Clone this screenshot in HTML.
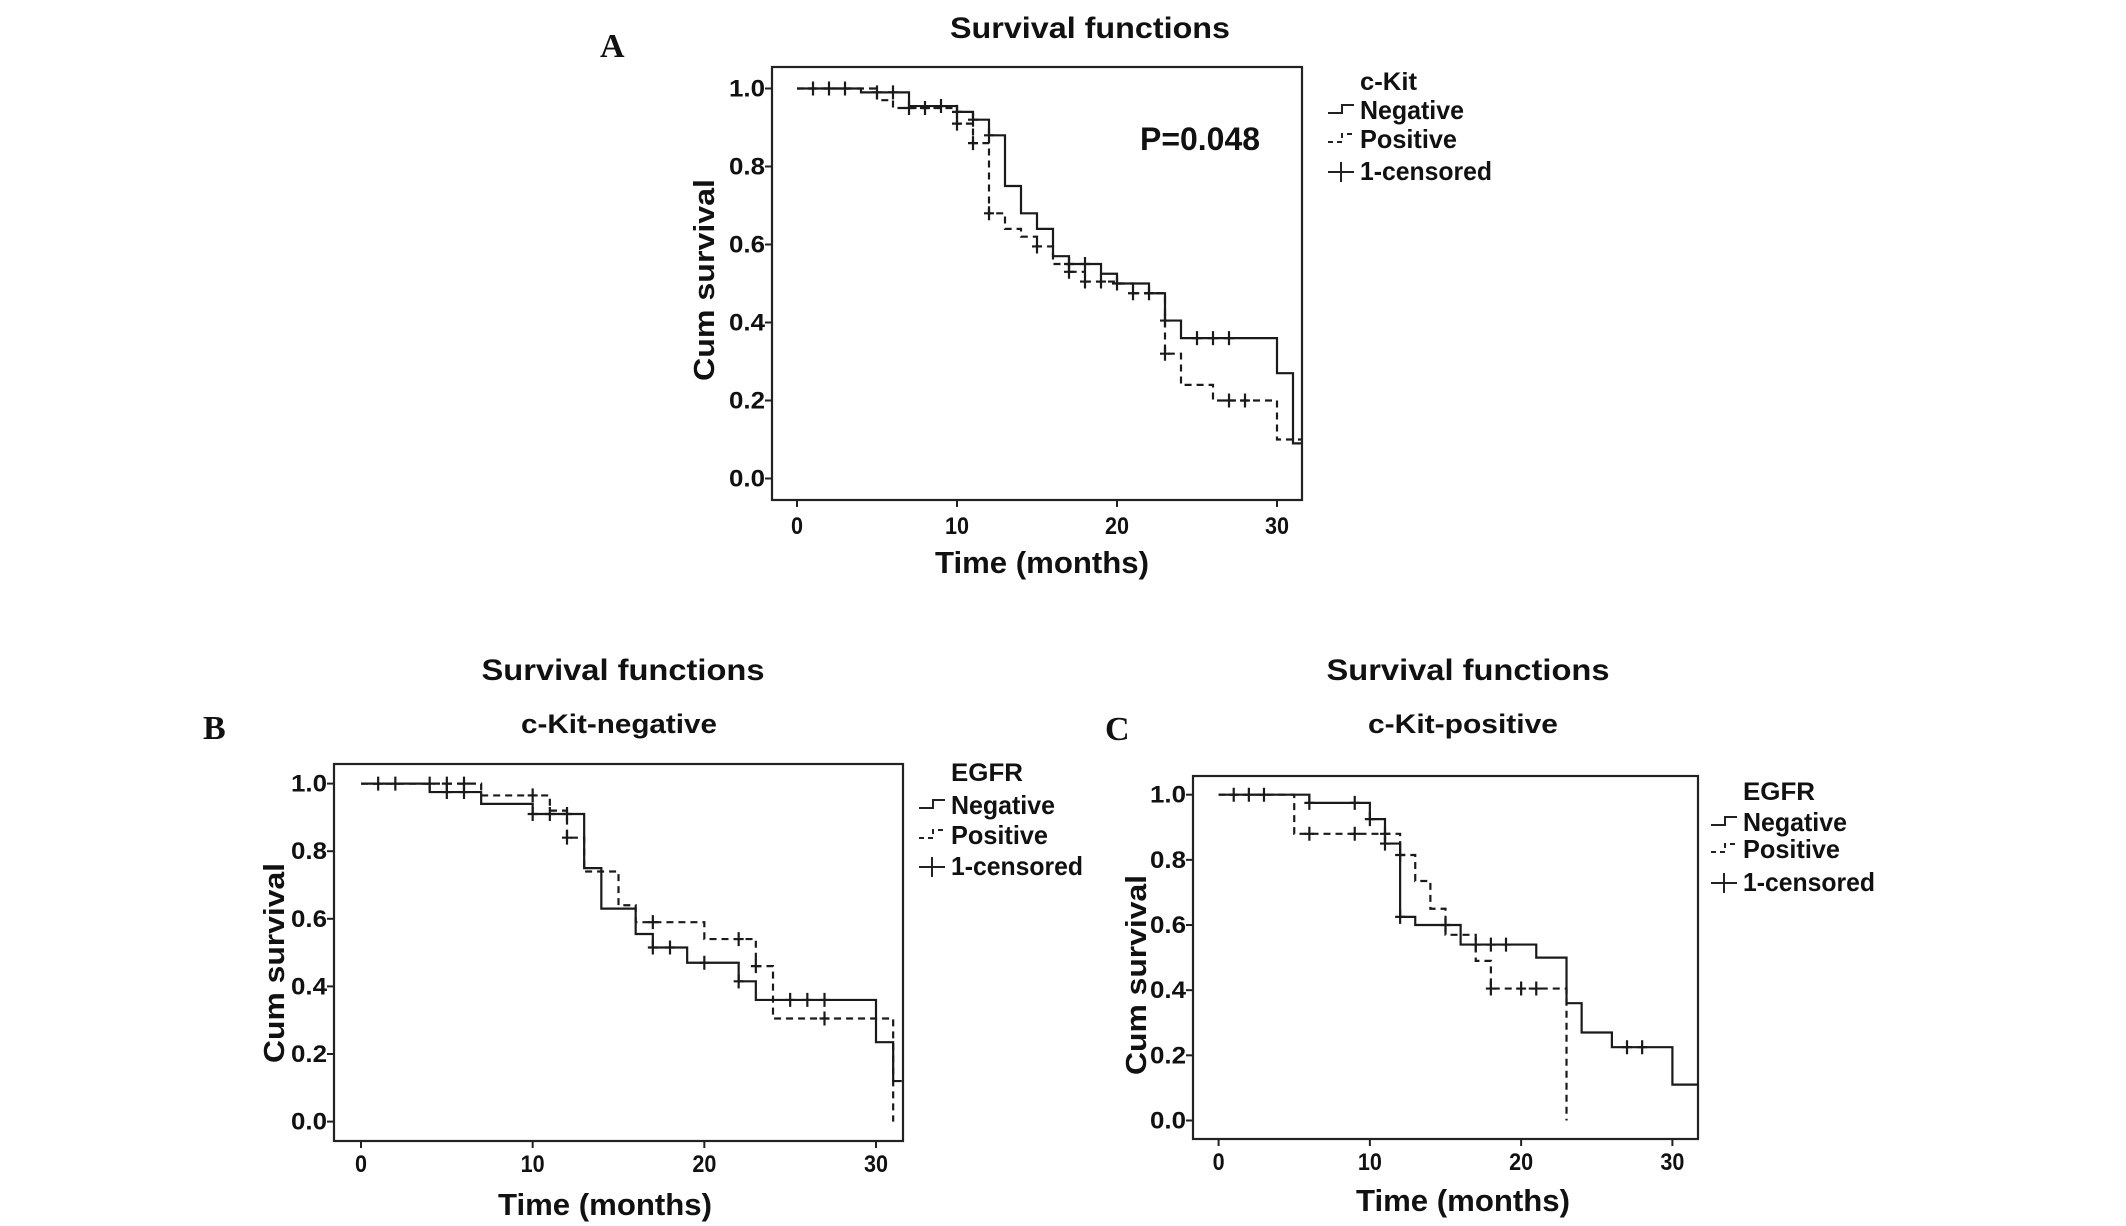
<!DOCTYPE html>
<html><head><meta charset="utf-8"><style>
html,body{margin:0;padding:0;background:#fff;}
svg{display:block;}
text{font-family:"Liberation Sans Narrow","Liberation Sans",sans-serif;font-weight:bold;fill:#111;}
.wide{font-family:"Liberation Sans",sans-serif;}
.serif{font-family:"Liberation Serif",serif;}
</style></head><body>
<svg id="chart" width="2126" height="1226" viewBox="0 0 2126 1226" xmlns="http://www.w3.org/2000/svg"></svg>
<script>
// Panel A: c-Kit
const aNegT=[0,4,7,10,11,12,13,14,15,16,17,19,20,22,23,24,30,31,31.5];
const aNegS=[1,0.99,0.955,0.94,0.92,0.88,0.75,0.68,0.64,0.57,0.55,0.525,0.50,0.475,0.405,0.36,0.27,0.09,0.09];
const aNegCT=[1,2,3,5,6,9,10,11,12,17,18,20,22,23,25,26,27];
const aNegCS=[1,1,1,0.99,0.99,0.955,0.94,0.92,0.88,0.55,0.55,0.50,0.475,0.405,0.36,0.36,0.36];
const aPosT=[0,5,6,10,11,12,13,14,15,16,17,18,20,21,23,24,26,30,31.5];
const aPosS=[1,0.97,0.95,0.91,0.86,0.68,0.64,0.62,0.595,0.55,0.53,0.505,0.50,0.475,0.32,0.24,0.20,0.10,0.10];
const aPosCT=[7,8,10,11,12,15,17,18,19,21,23,27,28];
const aPosCS=[0.95,0.95,0.91,0.86,0.68,0.595,0.53,0.505,0.505,0.475,0.32,0.20,0.20];
// Panel B: c-Kit-negative
const bNegT=[0,4,7,10,13,14,16,17,19,22,23,30,31,31.5];
const bNegS=[1,0.975,0.94,0.91,0.75,0.63,0.555,0.515,0.47,0.415,0.36,0.235,0.12,0.12];
const bNegCT=[5,6,10,11,12,17,18,20,22,25,26,27];
const bNegCS=[0.975,0.975,0.91,0.91,0.91,0.515,0.515,0.47,0.415,0.36,0.36,0.36];
const bPosT=[0,7,11,12,13,15,16,20,23,24,31];
const bPosS=[1,0.965,0.92,0.84,0.74,0.64,0.59,0.54,0.46,0.305,0.0];
const bPosCT=[1,2,4,5,6,10,12,17,22,23,27];
const bPosCS=[1,1,1,1,1,0.965,0.84,0.59,0.54,0.46,0.305];
// Panel C: c-Kit-positive
const cNegT=[0,6,10,11,12,13,16,21,23,24,26,30,31.7];
const cNegS=[1,0.975,0.925,0.85,0.625,0.60,0.54,0.50,0.36,0.27,0.225,0.11,0.11];
const cNegCT=[1,2,3,6,9,10,11,12,15,17,18,19,27,28];
const cNegCS=[1,1,1,0.975,0.975,0.925,0.85,0.625,0.60,0.54,0.54,0.54,0.225,0.225];
const cPosT=[0,5,12,13,14,15,17,18,23];
const cPosS=[1,0.88,0.815,0.735,0.65,0.57,0.49,0.405,0.0];
const cPosCT=[6,9,11,12,18,20,21];
const cPosCS=[0.88,0.88,0.88,0.815,0.405,0.405,0.405];
const xTicks=[0,10,20,30];
const yTicks=[0,0.2,0.4,0.6,0.8,1.0];

const NS='http://www.w3.org/2000/svg';
const svg=document.getElementById('chart');
function mk(tag,attrs,parent){const e=document.createElementNS(NS,tag);for(const k in attrs)e.setAttribute(k,attrs[k]);(parent||svg).appendChild(e);return e;}
function txt(s,attrs,parent){const e=mk('text',attrs,parent);e.textContent=s;return e;}

function panel(p){
  const g=mk('g',{});
  
  
  const xs=v=>p.x0+(p.x30-p.x0)*v/30;
  const ys=v=>p.y0+(p.y1-p.y0)*v;
  const box=mk('rect',{x:p.bl,y:p.bt,width:p.br-p.bl,height:p.bb-p.bt,fill:'none',stroke:'#222','stroke-width':2.2},g);
  
  
  yTicks.forEach(v=>{
    const y=ys(v);
    mk('line',{x1:p.bl-7,x2:p.bl,y1:y,y2:y,stroke:'#222','stroke-width':2},g);
    const t=txt(v.toFixed(1),{x:p.bl-7,y:y+8,'font-size':24,'text-anchor':'end',textLength:36,lengthAdjust:'spacingAndGlyphs'},g);
    
    
  });
  xTicks.forEach(v=>{
    const x=xs(v);
    mk('line',{x1:x,x2:x,y1:p.bb,y2:p.bb+7,stroke:'#222','stroke-width':2},g);
    const s=String(v);
    const t=txt(s,{x:x,y:p.xty+2,'font-size':24,'text-anchor':'middle',textLength:s.length*12,lengthAdjust:'spacingAndGlyphs'},g);
    
    
  });
  function series(T,S,dash,name){
    let d='M'+xs(T[0])+','+ys(S[0]);
    for(let i=1;i<T.length;i++){d+=' H'+xs(T[i])+' V'+ys(S[i]);}
    const path=mk('path',{d:d,fill:'none',stroke:'#1a1a1a','stroke-width':2.2,'stroke-dasharray':dash},g);
    
    
  }
  function cens(T,S,name){
    for(let i=0;i<T.length;i++){
      const x=xs(T[i]),y=ys(S[i]);
      const c=mk('path',{d:`M${x-5},${y} H${x+5} M${x},${y-7} V${y+7}`,stroke:'#1a1a1a','stroke-width':2.2,fill:'none'},g);
      
      
    }
  }
  series(p.negT,p.negS,'none','negative-curve');
  series(p.posT,p.posS,'7,5','positive-curve');
  cens(p.negCT,p.negCS,'negative-censor-mark');
  cens(p.posCT,p.posCS,'positive-censor-mark');
  let t=txt('Survival functions',{x:p.tx,y:p.ty,'font-size':30,'text-anchor':'middle',textLength:p.tw,lengthAdjust:'spacingAndGlyphs'},g);
  
  
  if(p.sub){
    t=txt(p.sub,{x:p.sx,y:p.sy,'font-size':27,'text-anchor':'middle',textLength:p.sw,lengthAdjust:'spacingAndGlyphs'},g);
    
    
  }
  t=txt(p.letter,{x:p.lx,y:p.ly,'font-size':34,class:'serif'},g);
  
  
  t=txt('Cum survival',{x:0,y:0,'font-size':29,'text-anchor':'middle',class:'wide',textLength:p.ylen,lengthAdjust:'spacingAndGlyphs',transform:`translate(${p.yx},${p.yc}) rotate(-90)`},g);
  
  
  t=txt('Time (months)',{x:p.xtx,y:p.xtY,'font-size':31,'text-anchor':'middle',textLength:214,lengthAdjust:'spacingAndGlyphs'},g);
  
  
  const L=p.leg;
  t=txt(p.legTitle,{x:L.x,y:L.y0,'font-size':25,textLength:p.legTitle==='c-Kit'?57:72,lengthAdjust:'spacingAndGlyphs'},g);
  
  
  const sx=L.x-32;
  const e1=mk('path',{d:`M${sx},${L.y1-6} H${sx+14} V${L.y1-14} H${sx+26}`,stroke:'#222','stroke-width':2,fill:'none'},g);
  
  
  t=txt('Negative',{x:L.x,y:L.y1,'font-size':26,textLength:104,lengthAdjust:'spacingAndGlyphs'},g);
  
  
  const e2=mk('path',{d:`M${sx},${L.y2-6} H${sx+14} V${L.y2-14} H${sx+26}`,stroke:'#222','stroke-width':2,fill:'none','stroke-dasharray':'5,4'},g);
  
  
  t=txt('Positive',{x:L.x,y:L.y2,'font-size':26,textLength:97,lengthAdjust:'spacingAndGlyphs'},g);
  
  
  const e3=mk('path',{d:`M${sx},${L.y3-8} H${sx+26} M${sx+13},${L.y3-18} V${L.y3+2}`,stroke:'#222','stroke-width':2,fill:'none'},g);
  
  
  t=txt('1-censored',{x:L.x,y:L.y3,'font-size':26,textLength:132,lengthAdjust:'spacingAndGlyphs'},g);
  
  
  return g;
}

panel({id:'a',letter:'A',lx:600,ly:57,bl:772,br:1302,bt:67,bb:500,x0:797,x30:1277,y0:478.5,y1:88.5,fs:21,xty:532,
  tx:1090,ty:38,tw:280,yx:714,yc:280,ylen:202,xtx:1042,xtY:573,
  negT:aNegT,negS:aNegS,negCT:aNegCT,negCS:aNegCS,posT:aPosT,posS:aPosS,posCT:aPosCT,posCS:aPosCS,
  legTitle:'c-Kit',leg:{x:1360,y0:90,y1:119,y2:148,y3:180}});
const pv=txt('P=0.048',{x:1140,y:150,'font-size':32,textLength:120,lengthAdjust:'spacingAndGlyphs'});



panel({id:'b',letter:'B',lx:203,ly:739,bl:334,br:903,bt:764,bb:1141,x0:361,x30:876,y0:1121.6,y1:783.6,fs:21,xty:1170,
  tx:623,ty:680,tw:283,sub:'c-Kit-negative',sx:619,sy:733,sw:196,yx:284,yc:963,ylen:200,xtx:605,xtY:1215,
  negT:bNegT,negS:bNegS,negCT:bNegCT,negCS:bNegCS,posT:bPosT,posS:bPosS,posCT:bPosCT,posCS:bPosCS,
  legTitle:'EGFR',leg:{x:951,y0:781,y1:814,y2:844,y3:875}});

panel({id:'c',letter:'C',lx:1105,ly:740,bl:1193,br:1698,bt:776,bb:1139,x0:1218.6,x30:1672.4,y0:1120.5,y1:794.7,fs:21,xty:1168,
  tx:1468,ty:680,tw:283,sub:'c-Kit-positive',sx:1463,sy:733,sw:190,yx:1146,yc:975,ylen:200,xtx:1463,xtY:1211,
  negT:cNegT,negS:cNegS,negCT:cNegCT,negCS:cNegCS,posT:cPosT,posS:cPosS,posCT:cPosCT,posCS:cPosCS,
  legTitle:'EGFR',leg:{x:1743,y0:800,y1:831,y2:858,y3:891}});
</script>
</body></html>
